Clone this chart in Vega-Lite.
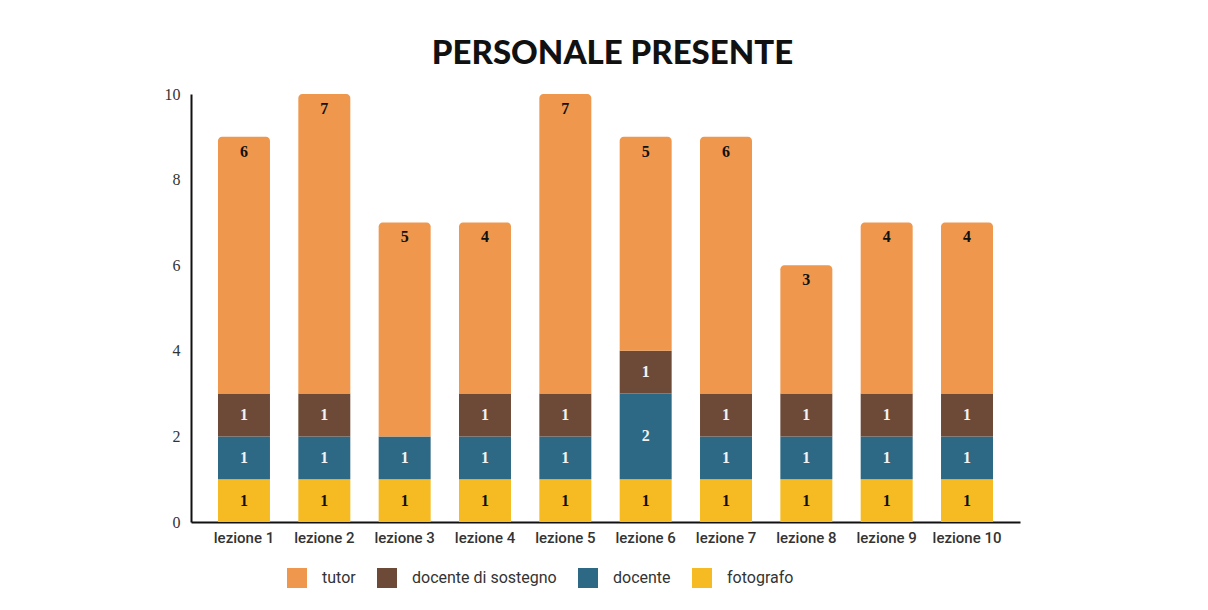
{
  "$schema": "https://vega.github.io/schema/vega-lite/v6.json",
  "width": 829,
  "height": 428,
  "autosize": "none",
  "padding": {"left": 191, "top": 94, "right": 188, "bottom": 88},
  "background": "white",
  "config": {"view": {"stroke": null}},
  "title": {
    "text": "PERSONALE PRESENTE",
    "font": "Lato",
    "fontWeight": 900,
    "fontSize": 33,
    "color": "#111111",
    "anchor": "middle",
    "offset": 15,
    "dx": 7
  },
  "data": {
    "values": [
      {"lezione": "lezione 1", "ruolo": "fotografo", "n": 1},
      {"lezione": "lezione 1", "ruolo": "docente", "n": 1},
      {"lezione": "lezione 1", "ruolo": "docente di sostegno", "n": 1},
      {"lezione": "lezione 1", "ruolo": "tutor", "n": 6},
      {"lezione": "lezione 2", "ruolo": "fotografo", "n": 1},
      {"lezione": "lezione 2", "ruolo": "docente", "n": 1},
      {"lezione": "lezione 2", "ruolo": "docente di sostegno", "n": 1},
      {"lezione": "lezione 2", "ruolo": "tutor", "n": 7},
      {"lezione": "lezione 3", "ruolo": "fotografo", "n": 1},
      {"lezione": "lezione 3", "ruolo": "docente", "n": 1},
      {"lezione": "lezione 3", "ruolo": "tutor", "n": 5},
      {"lezione": "lezione 4", "ruolo": "fotografo", "n": 1},
      {"lezione": "lezione 4", "ruolo": "docente", "n": 1},
      {"lezione": "lezione 4", "ruolo": "docente di sostegno", "n": 1},
      {"lezione": "lezione 4", "ruolo": "tutor", "n": 4},
      {"lezione": "lezione 5", "ruolo": "fotografo", "n": 1},
      {"lezione": "lezione 5", "ruolo": "docente", "n": 1},
      {"lezione": "lezione 5", "ruolo": "docente di sostegno", "n": 1},
      {"lezione": "lezione 5", "ruolo": "tutor", "n": 7},
      {"lezione": "lezione 6", "ruolo": "fotografo", "n": 1},
      {"lezione": "lezione 6", "ruolo": "docente", "n": 2},
      {"lezione": "lezione 6", "ruolo": "docente di sostegno", "n": 1},
      {"lezione": "lezione 6", "ruolo": "tutor", "n": 5},
      {"lezione": "lezione 7", "ruolo": "fotografo", "n": 1},
      {"lezione": "lezione 7", "ruolo": "docente", "n": 1},
      {"lezione": "lezione 7", "ruolo": "docente di sostegno", "n": 1},
      {"lezione": "lezione 7", "ruolo": "tutor", "n": 6},
      {"lezione": "lezione 8", "ruolo": "fotografo", "n": 1},
      {"lezione": "lezione 8", "ruolo": "docente", "n": 1},
      {"lezione": "lezione 8", "ruolo": "docente di sostegno", "n": 1},
      {"lezione": "lezione 8", "ruolo": "tutor", "n": 3},
      {"lezione": "lezione 9", "ruolo": "fotografo", "n": 1},
      {"lezione": "lezione 9", "ruolo": "docente", "n": 1},
      {"lezione": "lezione 9", "ruolo": "docente di sostegno", "n": 1},
      {"lezione": "lezione 9", "ruolo": "tutor", "n": 4},
      {"lezione": "lezione 10", "ruolo": "fotografo", "n": 1},
      {"lezione": "lezione 10", "ruolo": "docente", "n": 1},
      {"lezione": "lezione 10", "ruolo": "docente di sostegno", "n": 1},
      {"lezione": "lezione 10", "ruolo": "tutor", "n": 4}
    ]
  },
  "transform": [
    {"calculate": "datum.ruolo === 'fotografo' ? 0 : datum.ruolo === 'docente' ? 1 : datum.ruolo === 'docente di sostegno' ? 2 : 3", "as": "ordine"},
    {"stack": "n", "groupby": ["lezione"], "sort": [{"field": "ordine", "order": "ascending"}], "as": ["y0", "y1"]},
    {"calculate": "(datum.y0 + datum.y1) / 2", "as": "ymid"}
  ],
  "encoding": {
    "x": {
      "field": "lezione",
      "type": "nominal",
      "sort": ["lezione 1", "lezione 2", "lezione 3", "lezione 4", "lezione 5", "lezione 6", "lezione 7", "lezione 8", "lezione 9", "lezione 10"],
      "scale": {"paddingInner": 0.353, "paddingOuter": 0.336},
      "axis": {
        "title": null,
        "labelAngle": 0,
        "ticks": false,
        "labelFont": "Roboto",
        "labelFontSize": 15,
        "labelFontWeight": 500,
        "labelColor": "#333333",
        "labelPadding": 8,
        "domainColor": "#111111",
        "domainWidth": 2
      }
    }
  },
  "layer": [
    {
      "transform": [{"filter": "datum.ruolo !== 'tutor'"}],
      "mark": {"type": "bar"},
      "encoding": {
        "y": {
          "field": "y0",
          "type": "quantitative",
          "scale": {"domain": [0, 10], "nice": false},
          "axis": {
            "title": null,
            "values": [0, 2, 4, 6, 8, 10],
            "grid": false,
            "ticks": false,
            "labelFont": "Liberation Serif",
            "labelFontSize": 16,
            "labelColor": "#333333",
            "labelPadding": 11,
            "domainColor": "#111111",
            "domainWidth": 2
          }
        },
        "y2": {"field": "y1"},
        "color": {
          "field": "ruolo",
          "type": "nominal",
          "scale": {
            "domain": ["tutor", "docente di sostegno", "docente", "fotografo"],
            "range": ["#EE974D", "#6D4A37", "#2D6984", "#F6BB22"]
          },
          "legend": {
            "title": null,
            "orient": "none",
            "legendX": 96,
            "legendY": 474,
            "direction": "horizontal",
            "symbolType": "square",
            "symbolSize": 400,
            "symbolStrokeWidth": 0,
            "labelFont": "Roboto",
            "labelFontSize": 16,
            "labelColor": "#333333",
            "labelOffset": 15,
            "columnPadding": 21
          }
        }
      }
    },
    {
      "transform": [{"filter": "datum.ruolo === 'tutor'"}],
      "mark": {"type": "bar", "cornerRadiusTopLeft": 4, "cornerRadiusTopRight": 4},
      "encoding": {
        "y": {"field": "y0", "type": "quantitative"},
        "y2": {"field": "y1"},
        "color": {"field": "ruolo", "type": "nominal"}
      }
    },
    {
      "transform": [{"filter": "datum.ruolo === 'tutor'"}],
      "mark": {"type": "text", "font": "Liberation Serif", "fontWeight": "bold", "fontSize": 16, "baseline": "middle", "dy": 15, "color": "#111111"},
      "encoding": {
        "y": {"field": "y1", "type": "quantitative"},
        "text": {"field": "n", "type": "quantitative"}
      }
    },
    {
      "transform": [{"filter": "datum.ruolo !== 'tutor'"}],
      "mark": {"type": "text", "font": "Liberation Serif", "fontWeight": "bold", "fontSize": 16, "baseline": "middle"},
      "encoding": {
        "y": {"field": "ymid", "type": "quantitative"},
        "text": {"field": "n", "type": "quantitative"},
        "color": {
          "condition": {"test": "datum.ruolo === 'fotografo'", "value": "#111111"},
          "value": "#F2F2F2"
        }
      }
    }
  ]
}
